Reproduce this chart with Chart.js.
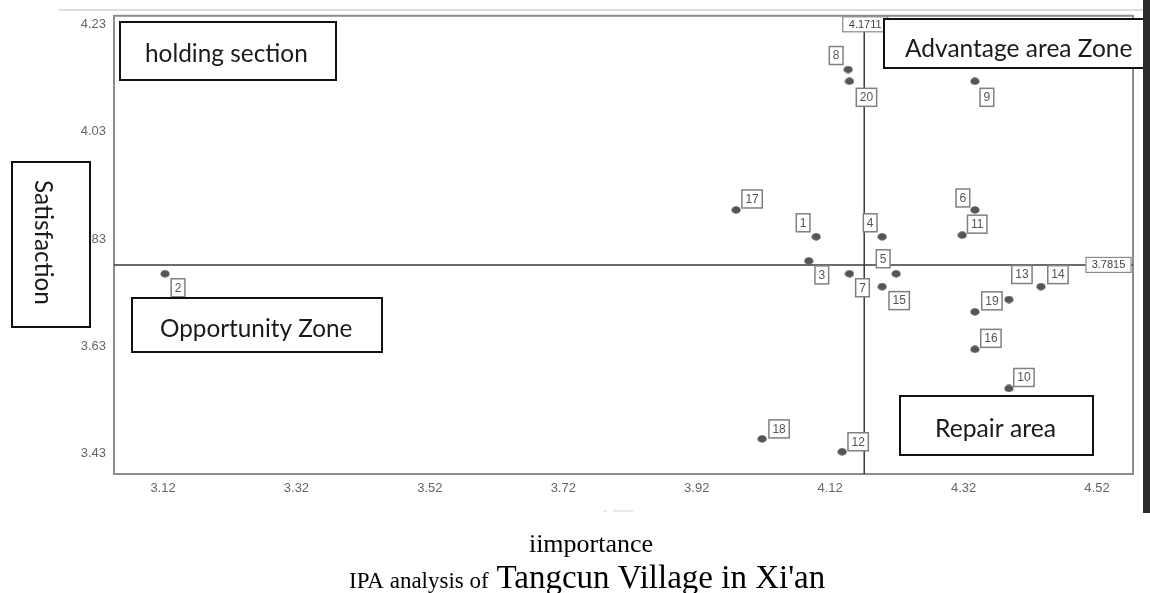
<!DOCTYPE html>
<html><head><meta charset="utf-8">
<script src="https://cdn.jsdelivr.net/npm/chart.js@4.4.1/dist/chart.umd.min.js"></script>
<style>html,body{margin:0;padding:0;background:#fff;overflow:hidden}canvas{display:block}</style>
</head><body>
<canvas id="c" width="1150" height="593"></canvas>
<script>
// ---- data ----
const itemIds = ['1','2','3','4','5','6','7','8','9','10','11','12','13','14','15','16','17','18','19','20'];
const importance = [4.099,3.123,4.088,4.198,4.219,4.337,4.149,4.147,4.337,4.388,4.318,4.138,4.388,4.436,4.198,4.337,3.979,4.018,4.337,4.149];
const satisfaction = [3.834,3.765,3.789,3.834,3.765,3.884,3.765,4.146,4.124,3.551,3.837,3.433,3.717,3.741,3.741,3.624,3.884,3.457,3.694,4.124];
const xTickValues = [3.12,3.32,3.52,3.72,3.92,4.12,4.32,4.52];
const yTickValues = [3.43,3.63,3.83,4.03,4.23];
const meanImportance = 4.1711;
const meanSatisfaction = 3.7815;
const zoneNames = ['holding section','Advantage area Zone','Opportunity Zone','Repair area'];
const xAxisTitle = 'iimportance';
const yAxisTitle = 'Satisfaction';
const captionSmall = 'IPA analysis of ';
const captionLarge = "Tangcun Village in Xi'an";

// ---- styles ----
const labelOffsets = [[-13,-14],[13,14],[13,14],[-12,-14],[-13,-15],[-12,-12],[13,14],[-12,-14],[12,16],[15,-11],
                      [15,-11],[16,-10],[13,-25],[17,-12],[17,14],[16,-11],[16,-11],[17,-10],[17,-11],[17,16]];
const zoneBoxes = [
  {x1:120,y1:22,x2:336,y2:80, tx:145, ty:62, w:163},
  {x1:884,y1:19,x2:1152,y2:68, tx:905, ty:57, w:227},
  {x1:132,y1:298,x2:382,y2:352, tx:160, ty:337, w:192},
  {x1:900,y1:396,x2:1093,y2:455, tx:935, ty:437, w:121}
];
const zoneFont = 'Lato, "Open Sans", sans-serif';

// ellipse point marker
const marker = document.createElement('canvas');
marker.width = 10; marker.height = 8;
(function(){const m=marker.getContext('2d');m.fillStyle='#555';m.beginPath();m.ellipse(5,4,4.6,3.7,0,0,Math.PI*2);m.fill();})();

function fitFont(ctx, text, target, family){
  ctx.font = '20px ' + family;
  const w = ctx.measureText(text).width;
  return 20 * target / w;
}

const ipaPlugin = {
  id:'ipa',
  beforeDatasetsDraw(chart){
    const {ctx, chartArea:a, scales:{x,y}} = chart;
    ctx.save();
    ctx.strokeStyle = '#8c8c8c'; ctx.lineWidth = 2;
    ctx.strokeRect(a.left, a.top, a.right - a.left, a.bottom - a.top);
    const vx = x.getPixelForValue(meanImportance), hy = y.getPixelForValue(meanSatisfaction);
    ctx.strokeStyle = '#3a3a3a'; ctx.lineWidth = 1.5;
    ctx.beginPath(); ctx.moveTo(vx, a.top); ctx.lineTo(vx, a.bottom); ctx.stroke();
    ctx.beginPath(); ctx.moveTo(a.left, hy); ctx.lineTo(a.right, hy); ctx.stroke();
    ctx.restore();
  },
  afterDatasetsDraw(chart){
    const {ctx, chartArea:a, scales:{x,y}} = chart;
    const meta = chart.getDatasetMeta(0);
    ctx.save();
    ctx.font = '12px "Liberation Sans", Arial, sans-serif';
    ctx.textAlign = 'center'; ctx.textBaseline = 'middle';
    meta.data.forEach((pt, i) => {
      const t = itemIds[i];
      const cx = pt.x + labelOffsets[i][0], cy = pt.y + labelOffsets[i][1];
      const w = ctx.measureText(t).width + 7, h = 18;
      ctx.fillStyle = '#fff';
      ctx.fillRect(cx - w/2, cy - h/2, w, h);
      ctx.strokeStyle = '#808080'; ctx.lineWidth = 1.5;
      ctx.strokeRect(cx - w/2, cy - h/2, w, h);
      ctx.fillStyle = '#555';
      ctx.fillText(t, cx, cy + 0.5);
    });
    // mean value tags
    const vx = x.getPixelForValue(meanImportance), hy = y.getPixelForValue(meanSatisfaction);
    ctx.font = '11px "Liberation Sans", Arial, sans-serif';
    const t1 = meanImportance.toFixed(4), t2 = meanSatisfaction.toFixed(4);
    let w = 45, h = 15;
    ctx.fillStyle = '#fff'; ctx.fillRect(vx - w/2 + 1, a.top + 1, w, h);
    ctx.strokeStyle = '#8a8a8a'; ctx.lineWidth = 1.2; ctx.strokeRect(vx - w/2 + 1, a.top + 1, w, h);
    ctx.fillStyle = '#444'; ctx.fillText(t1, vx + 1, a.top + 1 + h/2 + 0.5);
    ctx.fillStyle = '#fff'; ctx.fillRect(a.right - 2 - w, hy - h/2, w, h);
    ctx.strokeStyle = '#8a8a8a'; ctx.strokeRect(a.right - 2 - w, hy - h/2, w, h);
    ctx.fillStyle = '#444'; ctx.fillText(t2, a.right - 2 - w/2, hy + 0.5);
    ctx.restore();
  },
  afterDraw(chart){
    const {ctx} = chart;
    ctx.save();
    // faint top line
    ctx.strokeStyle = '#dcdcdc'; ctx.lineWidth = 2;
    ctx.beginPath(); ctx.moveTo(59, 10); ctx.lineTo(1143, 10); ctx.stroke();
    // zone boxes
    zoneBoxes.forEach((b, i) => {
      ctx.fillStyle = '#fff'; ctx.fillRect(b.x1, b.y1, b.x2 - b.x1, b.y2 - b.y1);
      ctx.strokeStyle = '#111'; ctx.lineWidth = 2;
      ctx.strokeRect(b.x1, b.y1, b.x2 - b.x1, b.y2 - b.y1);
      const fs = fitFont(ctx, zoneNames[i], b.w, zoneFont);
      ctx.font = fs.toFixed(1) + 'px ' + zoneFont;
      ctx.fillStyle = '#1a1a1a'; ctx.textAlign = 'left'; ctx.textBaseline = 'alphabetic';
      ctx.fillText(zoneNames[i], b.tx, b.ty);
    });
    // y axis title box
    ctx.fillStyle = '#fff'; ctx.fillRect(12, 162, 78, 165);
    ctx.strokeStyle = '#111'; ctx.lineWidth = 2; ctx.strokeRect(12, 162, 78, 165);
    const fsY = fitFont(ctx, yAxisTitle, 125, zoneFont);
    ctx.translate(35, 242.5); ctx.rotate(Math.PI/2);
    ctx.font = fsY.toFixed(1) + 'px ' + zoneFont;
    ctx.fillStyle = '#1a1a1a'; ctx.textAlign = 'center'; ctx.textBaseline = 'alphabetic';
    ctx.fillText(yAxisTitle, 0, 0);
    ctx.setTransform(1,0,0,1,0,0);
    // thick right line
    ctx.fillStyle = '#2b2b2b'; ctx.fillRect(1143, 0, 7, 513);
    // faint dash
    ctx.strokeStyle = '#e2e2e2'; ctx.lineWidth = 1.5;
    ctx.beginPath(); ctx.moveTo(603, 511); ctx.lineTo(607, 511); ctx.moveTo(613, 511); ctx.lineTo(633, 511); ctx.stroke();
    // x axis title and caption
    const serif = '"Liberation Serif", "Times New Roman", serif';
    ctx.fillStyle = '#000'; ctx.textBaseline = 'alphabetic';
    ctx.font = '26px ' + serif; ctx.textAlign = 'center';
    ctx.fillText(xAxisTitle, 591, 552);
    ctx.textAlign = 'left';
    ctx.font = '23px ' + serif;
    ctx.fillText(captionSmall, 349, 588);
    const sw = ctx.measureText(captionSmall).width;
    ctx.font = '33px ' + serif;
    ctx.fillText(captionLarge, 349 + sw + 2, 588);
    ctx.restore();
  }
};

new Chart(document.getElementById('c'), {
  type: 'scatter',
  data: {
    datasets: [{
      data: importance.map((v, i) => ({x: v, y: satisfaction[i]})),
      pointStyle: marker,
      pointRadius: 4,
      pointHoverRadius: 4
    }]
  },
  options: {
    responsive: false,
    devicePixelRatio: 1,
    animation: false,
    events: [],
    layout: {padding: {top: 14, right: 17, left: 0, bottom: 0}},
    plugins: {legend: {display: false}, tooltip: {enabled: false}},
    scales: {
      x: {
        type: 'linear', min: 3.0465, max: 4.574,
        grid: {display: false, drawTicks: false},
        border: {display: false},
        afterBuildTicks: s => { s.ticks = xTickValues.map(v => ({value: v})); },
        afterFit: s => { s.height = 119; },
        ticks: {padding: 7, color: '#666', font: {family: '"Liberation Sans", Arial, sans-serif', size: 13},
                callback: v => Number(v).toFixed(2), autoSkip: false, maxRotation: 0}
      },
      y: {
        type: 'linear', min: 3.3915, max: 4.2462,
        grid: {display: false, drawTicks: false},
        border: {display: false},
        afterBuildTicks: s => { s.ticks = yTickValues.map(v => ({value: v})); },
        afterFit: s => { s.width = 114; },
        ticks: {padding: 8, color: '#666', font: {family: '"Liberation Sans", Arial, sans-serif', size: 13},
                callback: v => Number(v).toFixed(2), autoSkip: false}
      }
    }
  },
  plugins: [ipaPlugin]
});
</script>
</body></html>
